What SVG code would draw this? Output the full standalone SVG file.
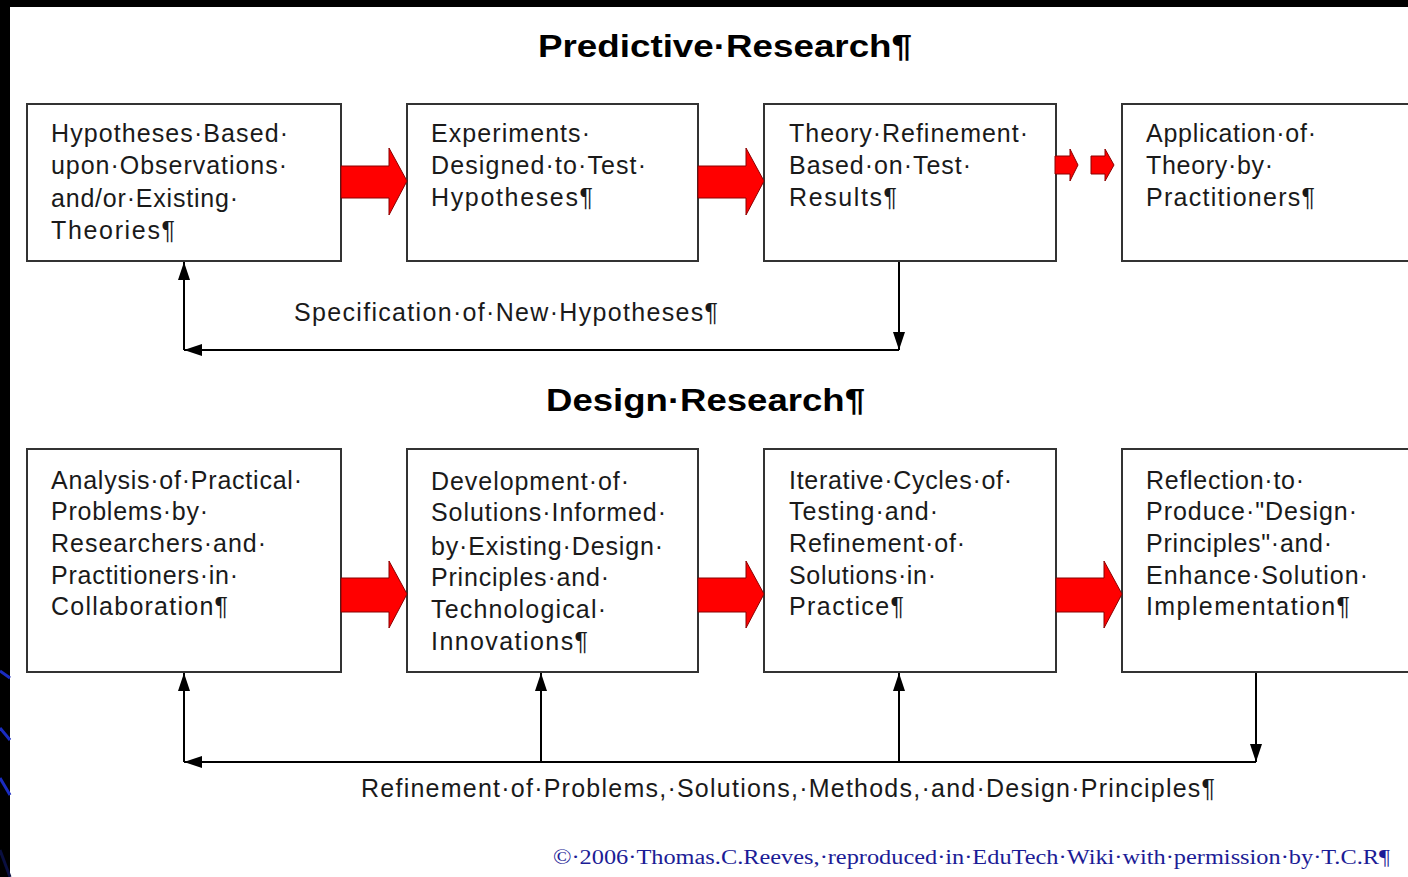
<svg xmlns="http://www.w3.org/2000/svg" width="1408" height="877" viewBox="0 0 1408 877">
<style>
.box{fill:#fff;stroke:#333;stroke-width:2}
.t{font-family:"Liberation Sans",Arial,sans-serif;font-size:25px;fill:#1a1a1a}
.lbl{font-family:"Liberation Sans",Arial,sans-serif;font-size:25px;fill:#1a1a1a}
.title{font-family:"Liberation Sans",Arial,sans-serif;font-weight:bold;font-size:32px;fill:#000}
.red{fill:#ff0000;stroke:#8a0000;stroke-width:1}
.con{fill:none;stroke:#000;stroke-width:2}
.copy{font-family:"Liberation Serif",serif;font-size:20px;fill:#1c1c96}
</style>
<defs>
<marker id="ah" markerUnits="userSpaceOnUse" markerWidth="18" markerHeight="12" refX="18" refY="6" orient="auto">
<path d="M0,0 L18,6 L0,12 z" fill="#000"/>
</marker>
</defs>
<rect x="0" y="0" width="1408" height="877" fill="#fff"/>
<g id="frame">
<rect x="0" y="0" width="1408" height="7" fill="#000"/>
<rect x="0" y="0" width="10" height="877" fill="#000"/>
<g stroke="#1a2cc0" stroke-width="3">
<line x1="0" y1="671" x2="10" y2="678"/>
<line x1="0" y1="728" x2="10" y2="740"/>
<line x1="0" y1="778" x2="10" y2="795"/>
</g>
<line x1="0" y1="850" x2="10" y2="877" stroke="#0a0f40" stroke-width="3"/>
</g>
<g id="titles">
<text class="title" x="538" y="57" textLength="374" lengthAdjust="spacingAndGlyphs">Predictive·Research¶</text>
<text class="title" x="546" y="411" textLength="319" lengthAdjust="spacingAndGlyphs">Design·Research¶</text>
</g>
<g id="p1"><rect class="box" x="27" y="104" width="314" height="157"/>
<text class="t" x="51" y="142" textLength="237">Hypotheses·Based·</text>
<text class="t" x="51" y="174" textLength="236">upon·Observations·</text>
<text class="t" x="51" y="207" textLength="187">and/or·Existing·</text>
<text class="t" x="51" y="239" textLength="124">Theories¶</text></g>
<g id="p2"><rect class="box" x="407" y="104" width="291" height="157"/>
<text class="t" x="431" y="142" textLength="159">Experiments·</text>
<text class="t" x="431" y="174" textLength="215">Designed·to·Test·</text>
<text class="t" x="431" y="206" textLength="162">Hypotheses¶</text></g>
<g id="p3"><rect class="box" x="764" y="104" width="292" height="157"/>
<text class="t" x="789" y="142" textLength="239">Theory·Refinement·</text>
<text class="t" x="789" y="174" textLength="182">Based·on·Test·</text>
<text class="t" x="789" y="206" textLength="108">Results¶</text></g>
<g id="p4"><rect class="box" x="1122" y="104" width="300" height="157"/>
<text class="t" x="1146" y="142" textLength="170">Application·of·</text>
<text class="t" x="1146" y="174" textLength="127">Theory·by·</text>
<text class="t" x="1146" y="206" textLength="169">Practitioners¶</text></g>
<g id="d1"><rect class="box" x="27" y="449" width="314" height="223"/>
<text class="t" x="51" y="489" textLength="251">Analysis·of·Practical·</text>
<text class="t" x="51" y="520" textLength="157">Problems·by·</text>
<text class="t" x="51" y="552" textLength="215">Researchers·and·</text>
<text class="t" x="51" y="584" textLength="187">Practitioners·in·</text>
<text class="t" x="51" y="615" textLength="177">Collaboration¶</text></g>
<g id="d2"><rect class="box" x="407" y="449" width="291" height="223"/>
<text class="t" x="431" y="490" textLength="198">Development·of·</text>
<text class="t" x="431" y="521" textLength="235">Solutions·Informed·</text>
<text class="t" x="431" y="555" textLength="232">by·Existing·Design·</text>
<text class="t" x="431" y="586" textLength="178">Principles·and·</text>
<text class="t" x="431" y="618" textLength="175">Technological·</text>
<text class="t" x="431" y="650" textLength="157">Innovations¶</text></g>
<g id="d3"><rect class="box" x="764" y="449" width="292" height="223"/>
<text class="t" x="789" y="489" textLength="223">Iterative·Cycles·of·</text>
<text class="t" x="789" y="520" textLength="149">Testing·and·</text>
<text class="t" x="789" y="552" textLength="176">Refinement·of·</text>
<text class="t" x="789" y="584" textLength="147">Solutions·in·</text>
<text class="t" x="789" y="615" textLength="115">Practice¶</text></g>
<g id="d4"><rect class="box" x="1122" y="449" width="300" height="223"/>
<text class="t" x="1146" y="489" textLength="158">Reflection·to·</text>
<text class="t" x="1146" y="520" textLength="211">Produce·"Design·</text>
<text class="t" x="1146" y="552" textLength="186">Principles"·and·</text>
<text class="t" x="1146" y="584" textLength="222">Enhance·Solution·</text>
<text class="t" x="1146" y="615" textLength="204">Implementation¶</text></g>
<g id="flow-arrows">
<polygon class="red" points="341,166 389,166 389,148 407,181 389,215 389,198 341,198"/>
<polygon class="red" points="698,166 746,166 746,148 764,181 746,215 746,198 698,198"/>
<polygon class="red" points="1055,156 1070,156 1070,149 1078,165 1070,181 1070,174 1055,174"/>
<polygon class="red" points="1091,156 1105,156 1105,149 1114,165 1105,181 1105,174 1091,174"/>
<polygon class="red" points="341,578 389,578 389,561 407,594 389,628 389,612 341,612"/>
<polygon class="red" points="698,578 746,578 746,561 764,594 746,628 746,612 698,612"/>
<polygon class="red" points="1056,578 1104,578 1104,561 1122,594 1104,628 1104,612 1056,612"/>
</g>
<g id="connectors">
<path class="con" d="M899,262 L899,350" marker-end="url(#ah)"/>
<path class="con" d="M899,350 L184,350" marker-end="url(#ah)"/>
<path class="con" d="M184,350 L184,262" marker-end="url(#ah)"/>
<path class="con" d="M1256,673 L1256,762" marker-end="url(#ah)"/>
<path class="con" d="M1256,762 L184,762" marker-end="url(#ah)"/>
<path class="con" d="M184,762 L184,673" marker-end="url(#ah)"/>
<path class="con" d="M541,762 L541,673" marker-end="url(#ah)"/>
<path class="con" d="M899,762 L899,673" marker-end="url(#ah)"/>
</g>
<g id="labels">
<text class="lbl" x="294" y="321" textLength="424">Specification·of·New·Hypotheses¶</text>
<text class="lbl" x="361" y="797" textLength="854">Refinement·of·Problems,·Solutions,·Methods,·and·Design·Principles¶</text>
<text class="copy" x="553" y="864" textLength="837" lengthAdjust="spacingAndGlyphs">©·2006·Thomas.C.Reeves,·reproduced·in·EduTech·Wiki·with·permission·by·T.C.R¶</text>
</g>
</svg>
